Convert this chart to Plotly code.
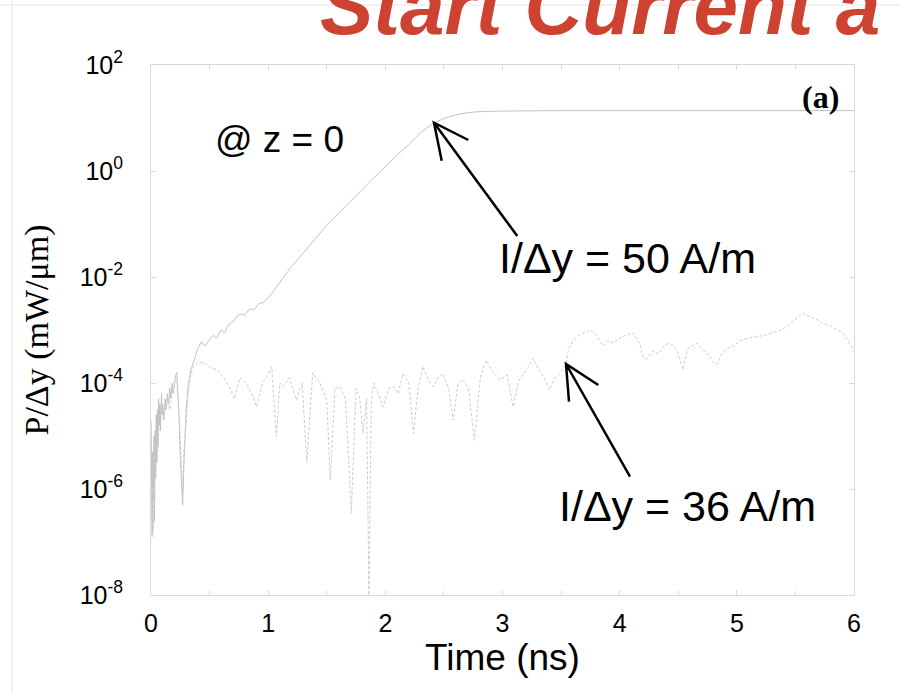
import plotly.graph_objects as go
import numpy as np

# ---------------- data (values as log10 of P/Δy) ----------------
t_50 = [0.000, 0.005, 0.010, 0.015, 0.020, 0.025, 0.030, 0.035, 0.040, 0.045, 0.050, 0.055,
        0.060, 0.065, 0.070, 0.075, 0.080, 0.085, 0.090, 0.095, 0.100, 0.110, 0.120, 0.130,
        0.140, 0.150, 0.160, 0.170, 0.180, 0.190, 0.200, 0.210, 0.220, 0.230, 0.240, 0.250,
        0.260, 0.270, 0.280, 0.290, 0.300, 0.320, 0.340, 0.360, 0.380, 0.400, 0.430,
        0.46, 0.50, 0.53, 0.56, 0.60, 0.63, 0.66, 0.70, 0.73, 0.76, 0.80, 0.84, 0.88, 0.92,
        0.96, 1.00, 1.05, 1.10, 1.15, 1.20, 1.30, 1.40, 1.50, 1.60, 1.70, 1.80, 1.90, 2.00,
        2.10, 2.20, 2.30, 2.40, 2.50, 2.60, 2.70, 2.80, 3.00, 3.50, 4.00, 5.00, 6.00]
log_p_50 = [-4.7, -5.6, -6.9, -5.3, -6.2, -5.0, -6.6, -4.9, -5.8, -4.6, -5.5, -4.5,
            -5.2, -4.3, -4.8, -4.4, -4.9, -4.5, -4.2, -4.6, -4.4, -4.7, -4.3, -4.5,
            -4.2, -4.4, -4.1, -4.3, -4.0, -4.2, -3.95, -3.85, -3.8, -4.2, -4.7, -5.4,
            -5.9, -6.3, -5.6, -5.0, -4.5, -4.0, -3.75, -3.62, -3.5, -3.35, -3.22,
            -3.3, -3.18, -3.1, -3.15, -3.0, -3.05, -2.9, -2.85, -2.75, -2.7, -2.72, -2.6, -2.62, -2.5,
            -2.48, -2.4, -2.25, -2.1, -1.95, -1.8, -1.55, -1.28, -1.02, -0.8, -0.57, -0.35, -0.13, 0.08,
            0.3, 0.5, 0.72, 0.89, 0.99, 1.06, 1.10, 1.12, 1.13, 1.14, 1.14, 1.14, 1.14]

t_36 = [0.000, 0.005, 0.010, 0.015, 0.020, 0.025, 0.030, 0.035, 0.040, 0.045, 0.050, 0.060,
        0.070, 0.080, 0.090, 0.100, 0.120, 0.140, 0.160, 0.180, 0.200, 0.220, 0.240, 0.260,
        0.270, 0.280, 0.300, 0.320, 0.340, 0.360, 0.380, 0.40, 0.45, 0.50,
        0.56, 0.62, 0.67, 0.71, 0.76, 0.81, 0.86, 0.90, 0.95, 0.99, 1.03, 1.07, 1.10, 1.13,
        1.18, 1.24, 1.29, 1.33, 1.38, 1.44, 1.50, 1.53, 1.57, 1.61, 1.66, 1.71, 1.75, 1.78,
        1.81, 1.84, 1.86, 1.88, 1.90, 1.94, 1.98, 2.03, 2.07, 2.11, 2.15, 2.20, 2.24, 2.28,
        2.32, 2.37, 2.41, 2.45, 2.49, 2.54, 2.58, 2.62, 2.66, 2.71, 2.76, 2.81, 2.86, 2.92,
        2.98, 3.04, 3.09, 3.14, 3.18, 3.22, 3.26, 3.31, 3.35, 3.40, 3.45, 3.49, 3.54, 3.56,
        3.60, 3.65, 3.70, 3.75, 3.80, 3.86, 3.90, 3.95, 4.00, 4.05, 4.11, 4.17, 4.20, 4.23,
        4.28, 4.33, 4.38, 4.42, 4.46, 4.50, 4.54, 4.58, 4.62, 4.66, 4.70, 4.75, 4.80, 4.83,
        4.87, 4.92, 4.97, 5.03, 5.10, 5.17, 5.24, 5.31, 5.38, 5.45, 5.50, 5.56, 5.62, 5.68,
        5.74, 5.80, 5.86, 5.90, 5.95, 6.00]
log_p_36 = [-4.9, -6.0, -6.6, -5.5, -6.8, -5.2, -6.3, -5.0, -5.7, -4.8, -5.4, -4.9,
            -4.6, -4.8, -4.4, -4.6, -4.5, -4.3, -4.5, -4.1, -4.0, -3.9, -4.6, -5.5,
            -6.1, -5.3, -4.6, -4.1, -3.85, -3.7, -3.65, -3.6, -3.62, -3.7,
            -3.75, -3.9, -4.07, -4.3, -3.9, -4.0, -4.2, -4.45, -4.0, -3.88, -3.7, -5.01, -4.0, -4.07,
            -3.9, -4.32, -4.0, -5.5, -3.81, -4.0, -4.32, -5.83, -4.1, -4.07, -4.3, -6.45, -4.1, -4.26,
            -4.95, -4.3, -8.0, -4.4, -4.0, -4.2, -4.45, -4.1, -4.07, -4.2, -3.82, -4.0, -4.95, -4.1,
            -3.69, -3.95, -4.07, -3.9, -3.82, -4.1, -4.7, -4.0, -3.94, -4.1, -5.08, -3.9, -3.57, -3.8,
            -3.94, -3.85, -4.45, -3.95, -3.82, -3.7, -3.53, -3.75, -3.88, -4.13, -3.9, -3.82, -3.66, -3.4,
            -3.2, -3.1, -3.05, -3.0, -3.1, -3.3, -3.2, -3.25, -3.15, -3.1, -3.05, -3.25, -3.5, -3.55,
            -3.4, -3.45, -3.3, -3.25, -3.3, -3.45, -3.75, -3.35, -3.3, -3.25, -3.35, -3.45, -3.6, -3.65,
            -3.45, -3.35, -3.3, -3.2, -3.15, -3.12, -3.1, -3.05, -3.0, -2.9, -2.8, -2.68, -2.75, -2.8,
            -2.88, -2.92, -3.0, -3.05, -3.2, -3.4]

x_ticks = [0, 1, 2, 3, 4, 5, 6]
y_tick_exps = [-8, -6, -4, -2, 0, 2]

# ---------------- figure ----------------
W, H = 901, 693
L, R, T, B = 151, 47, 65, 98
PW, PH = W - L - R, H - T - B

def px(x):
    return (x - L) / PW

def py(y):
    return (H - B - y) / PH

fig = go.Figure()
fig.add_trace(go.Scatter(x=t_50, y=np.power(10.0, log_p_50), mode="lines",
                         line=dict(color="#bdbdbd", width=0.9), showlegend=False))
fig.add_trace(go.Scatter(x=t_36, y=np.power(10.0, log_p_36), mode="lines",
                         line=dict(color="#c6c6c6", width=0.9, dash="3px,2px"), showlegend=False))

font_sans = "Liberation Sans, Arial, sans-serif"
font_serif = "Liberation Serif, Times New Roman, serif"

fig.update_layout(
    width=W, height=H,
    margin=dict(l=L, r=R, t=T, b=B, autoexpand=False),
    paper_bgcolor="white", plot_bgcolor="white",
    showlegend=False,
    font=dict(family=font_sans, color="black"),
)
fig.update_xaxes(
    range=[0, 6], showgrid=False, zeroline=False,
    showline=True, linecolor="#d9d9d9", linewidth=1, mirror="ticks",
    ticks="inside", ticklen=5, tickcolor="#d9d9d9",
    tickvals=x_ticks, ticktext=[str(v) for v in x_ticks],
    tickfont=dict(size=25, family=font_sans), ticklabelstandoff=6,
    minor=dict(dtick=0.5, ticks="inside", ticklen=4, tickcolor="#d9d9d9", showgrid=False),
    title=dict(text="Time (ns)", font=dict(size=37, family=font_sans), standoff=6),
    automargin=False,
)
fig.update_yaxes(
    type="log", range=[-8, 2], showgrid=False, zeroline=False,
    showline=True, linecolor="#d9d9d9", linewidth=1, mirror="ticks",
    ticks="inside", ticklen=5, tickcolor="#d9d9d9",
    tickvals=[10.0 ** e for e in y_tick_exps],
    ticktext=["10<sup>%d</sup>" % e for e in y_tick_exps],
    tickfont=dict(size=25, family=font_sans), ticklabelstandoff=22,
    title=dict(text="P/Δy (mW/μm)", font=dict(size=34, family=font_serif), standoff=20),
    automargin=False,
)

# title fragment (cut by page edge)
fig.add_annotation(text="<b><i>Start Current a</i></b>", xref="paper", yref="paper",
                   x=px(318), y=py(53), xanchor="left", yanchor="bottom", showarrow=False,
                   font=dict(size=80, family=font_sans, color="#cd4231"))
# panel label
fig.add_annotation(text="<b>(a)</b>", xref="paper", yref="paper", x=px(841), y=py(97),
                   xanchor="right", yanchor="middle", showarrow=False,
                   font=dict(size=32, family=font_serif, color="black"))
fig.add_annotation(text="@ z = 0", xref="paper", yref="paper", x=px(213), y=py(139),
                   xanchor="left", yanchor="middle", showarrow=False,
                   font=dict(size=37, family=font_sans, color="black"))
fig.add_annotation(text="I/Δy = 50 A/m", xref="paper", yref="paper", x=px(497), y=py(258),
                   xanchor="left", yanchor="middle", showarrow=False,
                   font=dict(size=43, family=font_sans, color="black"))
fig.add_annotation(text="I/Δy = 36 A/m", xref="paper", yref="paper", x=px(557), y=py(506),
                   xanchor="left", yanchor="middle", showarrow=False,
                   font=dict(size=43, family=font_sans, color="black"))

# open arrows (shaft + two wings), pixel positions converted to paper coords
arrows = [
    dict(head=(434, 122.7), tail=(517.3, 236), w1=(468.3, 140), w2=(441.7, 160.7)),
    dict(head=(566, 364), tail=(630, 476.7), w1=(598.3, 385), w2=(569, 401.7)),
]
for a in arrows:
    hx, hy = px(a["head"][0]), py(a["head"][1])
    path = "M %f %f L %f %f M %f %f L %f %f L %f %f" % (
        px(a["tail"][0]), py(a["tail"][1]), hx, hy,
        px(a["w1"][0]), py(a["w1"][1]), hx, hy, px(a["w2"][0]), py(a["w2"][1]))
    fig.add_shape(type="path", path=path, xref="paper", yref="paper",
                  line=dict(color="black", width=2.5))

# faint slide border lines
fig.add_shape(type="line", xref="paper", yref="paper", x0=px(12), x1=px(12), y0=py(0), y1=py(693),
              line=dict(color="#e4e4e4", width=1))
fig.add_shape(type="line", xref="paper", yref="paper", x0=px(0), x1=px(901), y0=py(5), y1=py(5),
              line=dict(color="#e4e4e4", width=1))

fig.write_html("out.html")
